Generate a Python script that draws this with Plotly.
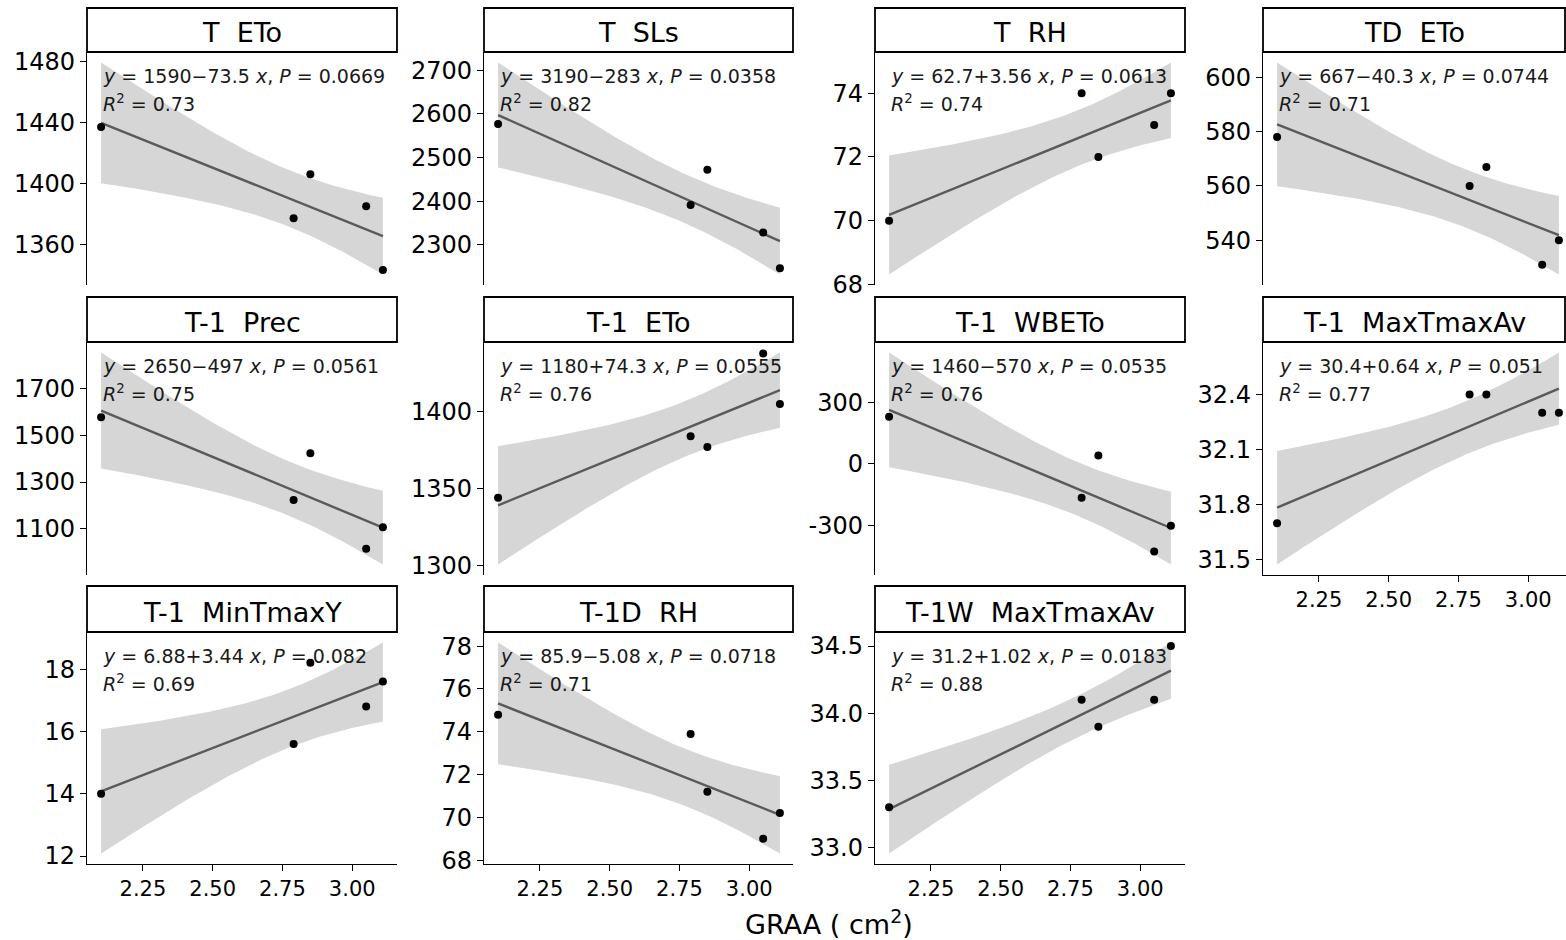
import numpy as np
import plotly.graph_objects as go

# Shared predictor: GRAA (cm2) for the five observations
graa = [2.10, 2.79, 2.85, 3.05, 3.11]

# Response variables, one list per facet (same order as graa)
t_eto = [1437, 1377, 1406, 1385, 1343]
t_sls = [2577, 2391, 2472, 2328, 2246]
t_rh = [70, 74, 72, 73, 74]
td_eto = [578, 560, 567, 531, 540]
t1_prec = [1578, 1223, 1423, 1014, 1106]
t1_eto = [1344, 1384, 1377, 1438, 1405]
t1_wbeto = [230, -165, 41, -428, -302]
t1_maxtmaxav = [31.7, 32.4, 32.4, 32.3, 32.3]
t1_mintmaxy = [14.0, 15.6, 18.2, 16.8, 17.6]
t1d_rh = [74.8, 73.9, 71.2, 69.0, 70.2]
t1w_maxtmaxav = [33.3, 34.1, 33.9, 34.1, 34.5]

facet_titles = [
    "T  ETo", "T  SLs", "T  RH", "TD  ETo",
    "T-1  Prec", "T-1  ETo", "T-1  WBETo", "T-1  MaxTmaxAv",
    "T-1  MinTmaxY", "T-1D  RH", "T-1W  MaxTmaxAv",
]
facet_values = [
    t_eto, t_sls, t_rh, td_eto,
    t1_prec, t1_eto, t1_wbeto, t1_maxtmaxav,
    t1_mintmaxy, t1d_rh, t1w_maxtmaxav,
]

# Fitted-model labels
eq_labels = [
    ("1590", "−", "73.5", "0.0669"), ("3190", "−", "283", "0.0358"),
    ("62.7", "+", "3.56", "0.0613"), ("667", "−", "40.3", "0.0744"),
    ("2650", "−", "497", "0.0561"), ("1180", "+", "74.3", "0.0555"),
    ("1460", "−", "570", "0.0535"), ("30.4", "+", "0.64", "0.051"),
    ("6.88", "+", "3.44", "0.082"), ("85.9", "−", "5.08", "0.0718"),
    ("31.2", "+", "1.02", "0.0183"),
]
r2_labels = ["0.73", "0.82", "0.74", "0.71", "0.75", "0.76",
             "0.76", "0.77", "0.69", "0.71", "0.88"]

# Y tick breaks per facet
y_breaks = [
    [1360, 1400, 1440, 1480], [2300, 2400, 2500, 2600, 2700],
    [68, 70, 72, 74], [540, 560, 580, 600],
    [1100, 1300, 1500, 1700], [1300, 1350, 1400],
    [-300, 0, 300], [31.5, 31.8, 32.1, 32.4],
    [12, 14, 16, 18], [68, 70, 72, 74, 76, 78],
    [33.0, 33.5, 34.0, 34.5],
]
y_break_text = [
    None, None, None, None, None, None, None,
    ["31.5", "31.8", "32.1", "32.4"], None, None,
    ["33.0", "33.5", "34.0", "34.5"],
]
x_breaks = [2.25, 2.50, 2.75, 3.00]
x_break_text = ["2.25", "2.50", "2.75", "3.00"]
x_title = "GRAA ( cm<sup>2</sup>)"

FONT = "DejaVu Sans"
W, H = 1566, 940

# Panel geometry in pixels
col_px = [(87, 397), (484, 793), (875, 1185), (1263, 1566)]
row_plot_px = [(52, 285), (342, 575), (632, 864)]
row_strip_px = [(8, 52), (297, 342), (586, 632)]
FULL_W = 310
bottom_axis_panels = {7, 8, 9, 10}

Z_975 = 1.959963984540054  # two-sided 95% normal quantile


def lm_band(x, y, n=80):
    """Least-squares line with 95% confidence band over the data range."""
    x = np.asarray(x, float)
    y = np.asarray(y, float)
    b1, b0 = np.polyfit(x, y, 1)
    resid = y - (b0 + b1 * x)
    s = np.sqrt(np.sum(resid ** 2) / (len(x) - 2))
    xg = np.linspace(x.min(), x.max(), n)
    yg = b0 + b1 * xg
    sxx = np.sum((x - x.mean()) ** 2)
    se = s * np.sqrt(1.0 / len(x) + (xg - x.mean()) ** 2 / sxx)
    return xg, yg, yg - Z_975 * se, yg + Z_975 * se


gx = np.asarray(graa, float)
gspan = gx.max() - gx.min()
x_lo = gx.min() - 0.05 * gspan
x_full = 1.1 * gspan

fig = go.Figure()
layout = dict(
    width=W, height=H, margin=dict(l=0, r=0, t=0, b=0, pad=0),
    autosize=False,
    paper_bgcolor="white", plot_bgcolor="white", showlegend=False,
    font=dict(family=FONT, color="black"),
)
shapes, annotations = [], []

for i, vals in enumerate(facet_values):
    k = i + 1
    sfx = "" if k == 1 else str(k)
    r, c = divmod(i, 4)
    x0p, x1p = col_px[c]
    y0p, y1p = row_plot_px[r]
    s0p, s1p = row_strip_px[r]

    xg, yg, lo, hi = lm_band(graa, vals)
    xa_ref, ya_ref = "x" + sfx, "y" + sfx

    fig.add_trace(go.Scatter(
        x=np.concatenate([xg, xg[::-1]]), y=np.concatenate([hi, lo[::-1]]),
        fill="toself", fillcolor="#D6D6D6", line=dict(width=0),
        mode="lines", hoverinfo="skip", xaxis=xa_ref, yaxis=ya_ref))
    fig.add_trace(go.Scatter(
        x=xg, y=yg, mode="lines", line=dict(color="#5A5A5A", width=2.4),
        xaxis=xa_ref, yaxis=ya_ref))
    fig.add_trace(go.Scatter(
        x=graa, y=vals, mode="markers",
        marker=dict(color="black", size=8), xaxis=xa_ref, yaxis=ya_ref))

    allv = np.concatenate([np.asarray(vals, float), lo, hi])
    vmin, vmax = allv.min(), allv.max()
    pad = 0.05 * (vmax - vmin)
    bottom = i in bottom_axis_panels

    layout["xaxis" + sfx] = dict(
        domain=[x0p / W, x1p / W],
        range=[x_lo, x_lo + x_full * (x1p - x0p) / FULL_W],
        anchor=ya_ref, showgrid=False, zeroline=False, fixedrange=True,
        automargin=False,
        showline=bottom, linecolor="black", linewidth=1.4,
        ticks="outside" if bottom else "", ticklen=6, tickwidth=1.4,
        tickcolor="black", showticklabels=bottom,
        tickvals=x_breaks, ticktext=x_break_text,
        tickfont=dict(family=FONT, size=21, color="black"),
    )
    ytxt = y_break_text[i] if y_break_text[i] else [str(v) for v in y_breaks[i]]
    layout["yaxis" + sfx] = dict(
        domain=[1 - y1p / H, 1 - y0p / H],
        range=[vmin - pad, vmax + pad],
        anchor=xa_ref, showgrid=False, zeroline=False, fixedrange=True,
        automargin=False,
        showline=True, linecolor="black", linewidth=1.4,
        ticks="outside", ticklen=6, tickwidth=1.4, tickcolor="black",
        tickvals=y_breaks[i], ticktext=ytxt,
        tickfont=dict(family=FONT, size=24, color="black"),
    )

    # facet strip
    shapes.append(dict(
        type="rect", xref="paper", yref="paper",
        x0=x0p / W, x1=min(x1p, 1565) / W,
        y0=1 - s1p / H, y1=1 - s0p / H,
        line=dict(color="black", width=1.8), fillcolor="white"))
    annotations.append(dict(
        xref="paper", yref="paper",
        x=(x0p + min(x1p, x0p + FULL_W)) / 2 / W,
        y=1 - ((s0p + s1p) / 2 + 3) / H,
        text=facet_titles[i].replace(" ", "\u00a0"), showarrow=False,
        xanchor="center", yanchor="middle",
        font=dict(family=FONT, size=27, color="black")))

    # regression labels
    b0, sign, b1, p = eq_labels[i]
    eq = (f"<i>y</i> = {b0}{sign}{b1} <i>x</i>, "
          f"<i>P</i> = {p}")
    ph = y1p - y0p
    lx = 0.045 * FULL_W / (x1p - x0p)
    annotations.append(dict(
        xref=f"{xa_ref} domain", yref=f"{ya_ref} domain",
        x=lx, y=1 - 24 / ph,
        text=eq, showarrow=False, xanchor="left", yanchor="middle",
        font=dict(family=FONT, size=19, color="#1a1a1a")))
    annotations.append(dict(
        xref=f"{xa_ref} domain", yref=f"{ya_ref} domain",
        x=lx, y=1 - 51 / ph,
        text=f"<i>R</i><sup>2</sup> = {r2_labels[i]}", showarrow=False,
        xanchor="left", yanchor="middle",
        font=dict(family=FONT, size=19, color="#1a1a1a")))

annotations.append(dict(
    xref="paper", yref="paper", x=829 / W, y=1 - 922 / H,
    text=x_title, showarrow=False, xanchor="center", yanchor="middle",
    font=dict(family=FONT, size=27, color="black")))

layout["shapes"] = shapes
layout["annotations"] = annotations
fig.update_layout(**layout)
fig.write_html("out.html")
